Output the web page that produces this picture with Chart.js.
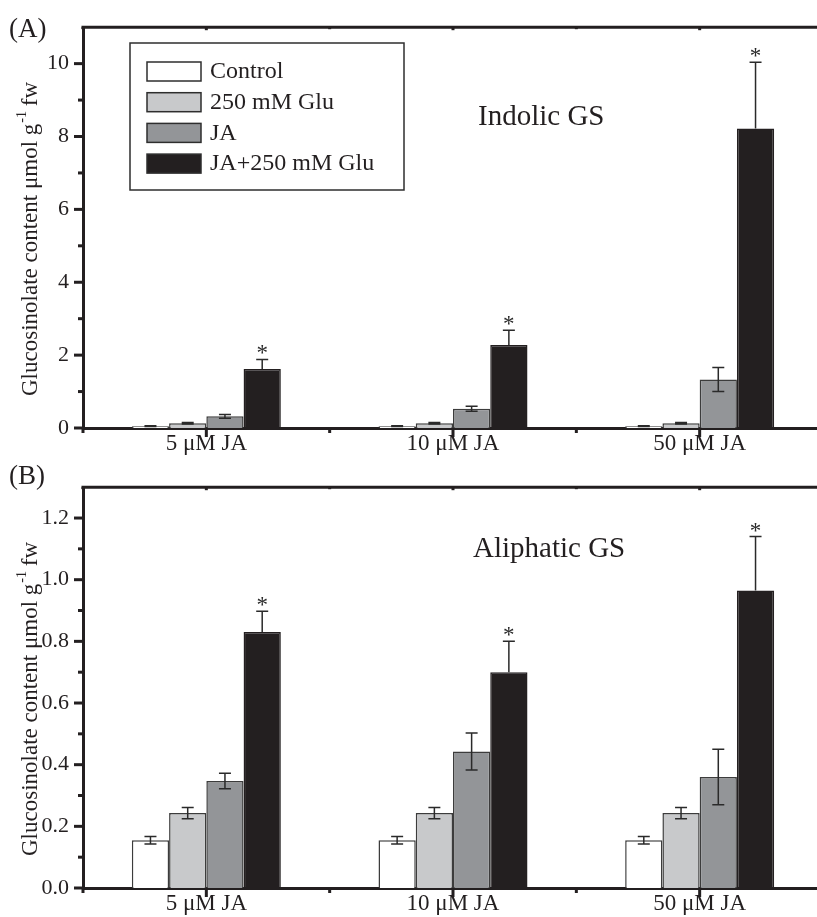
<!DOCTYPE html>
<html>
<head>
<meta charset="utf-8">
<script src="https://cdn.jsdelivr.net/npm/chart.js@4.4.0/dist/chart.umd.min.js"></script>
<style>
  html, body { margin: 0; padding: 0; background: #fff; overflow: hidden; }
  .panel { position: absolute; left: 0; }
</style>
</head>
<body>
<div class="panel" style="top:0"><canvas id="chartA" width="830" height="460"></canvas></div>
<div class="panel" style="top:460px"><canvas id="chartB" width="830" height="457"></canvas></div>
<script>
// categorias e séries
const groups = ['5 μM JA', '10 μM JA', '50 μM JA'];
const seriesNames = ['Control', '250 mM Glu', 'JA', 'JA+250 mM Glu'];
const seriesColors = ['#ffffff', '#c8c9cb', '#939598', '#231f20'];

// (A) Indolic GS
const indolicControl = [0.05, 0.05, 0.05];
const indolicGlu = [0.13, 0.13, 0.13];
const indolicJA = [0.32, 0.53, 1.33];
const indolicJAGlu = [1.62, 2.28, 8.22];
const indolicControlErr = [0.01, 0.01, 0.01];
const indolicGluErr = [0.02, 0.02, 0.02];
const indolicJAErr = [0.05, 0.07, 0.33];
const indolicJAGluErr = [0.26, 0.40, 1.82];

// (B) Aliphatic GS
const aliphaticControl = [0.155, 0.155, 0.155];
const aliphaticGlu = [0.243, 0.243, 0.243];
const aliphaticJA = [0.347, 0.443, 0.36];
const aliphaticJAGlu = [0.83, 0.70, 0.965];
const aliphaticControlErr = [0.012, 0.012, 0.012];
const aliphaticGluErr = [0.018, 0.018, 0.018];
const aliphaticJAErr = [0.025, 0.06, 0.09];
const aliphaticJAGluErr = [0.068, 0.10, 0.175];

// ticks do eixo y
const yTicksA = [0, 2, 4, 6, 8, 10];
const yMinorA = [1, 3, 5, 7, 9];
const yTicksB = [0, 0.2, 0.4, 0.6, 0.8, 1.0, 1.2];
const yMinorB = [0.1, 0.3, 0.5, 0.7, 0.9, 1.1];

const serif = "'Liberation Serif', 'Times New Roman', serif";
const ink = '#231f20';

const decorPlugin = {
  id: 'decor',
  afterDatasetsDraw(chart, args, opts) {
    const ctx = chart.ctx;
    const y = chart.scales.y;
    ctx.save();
    ctx.strokeStyle = '#2a2a2a';
    ctx.lineWidth = 1.5;
    opts.errors.forEach((errs, i) => {
      const vals = chart.data.datasets[i].data;
      const dark = i === opts.starSeries;
      chart.getDatasetMeta(i).data.forEach((bar, j) => {
        const top = y.getPixelForValue(vals[j] + errs[j]);
        const mid = y.getPixelForValue(vals[j]);
        const bot = y.getPixelForValue(vals[j] - errs[j]);
        ctx.beginPath();
        // barra preta: só a metade de cima aparece
        ctx.moveTo(bar.x, top); ctx.lineTo(bar.x, dark ? mid : bot);
        ctx.moveTo(bar.x - 6, top); ctx.lineTo(bar.x + 6, top);
        if (!dark) { ctx.moveTo(bar.x - 6, bot); ctx.lineTo(bar.x + 6, bot); }
        ctx.stroke();
        if (dark) {
          ctx.fillStyle = '#2a2a2a';
          ctx.font = '23px ' + serif;
          ctx.textAlign = 'center';
          ctx.textBaseline = 'alphabetic';
          ctx.fillText('*', bar.x, top + 1);
        }
      });
    });
    ctx.restore();
  },
  afterDraw(chart, args, opts) {
    const ctx = chart.ctx;
    const area = chart.chartArea;
    const x = chart.scales.x, y = chart.scales.y;
    ctx.save();
    ctx.strokeStyle = ink;
    ctx.fillStyle = ink;

    // moldura superior
    ctx.lineWidth = 3;
    ctx.beginPath();
    ctx.moveTo(area.left - 1.5, area.top);
    ctx.lineTo(area.right, area.top);
    ctx.stroke();

    // ticks y
    opts.major.forEach(v => {
      const py = y.getPixelForValue(v);
      ctx.beginPath(); ctx.moveTo(area.left - 9, py); ctx.lineTo(area.left, py); ctx.stroke();
    });
    opts.minor.forEach(v => {
      const py = y.getPixelForValue(v);
      ctx.beginPath(); ctx.moveTo(area.left - 5, py); ctx.lineTo(area.left, py); ctx.stroke();
    });

    // ticks x (centro e divisões)
    const step = (area.right - area.left) / groups.length;
    groups.forEach((g, i) => {
      const px = x.getPixelForValue(i);
      ctx.beginPath(); ctx.moveTo(px, area.bottom); ctx.lineTo(px, area.bottom + 9); ctx.stroke();
      ctx.beginPath(); ctx.moveTo(px, area.top); ctx.lineTo(px, area.top + 3); ctx.stroke();
      const bx = px - step / 2;
      ctx.beginPath(); ctx.moveTo(bx, area.bottom); ctx.lineTo(bx, area.bottom + 5); ctx.stroke();
      ctx.beginPath(); ctx.moveTo(bx, area.top); ctx.lineTo(bx, area.top + 2); ctx.stroke();
    });

    // título do eixo y com sobrescrito
    const fs = 23;
    ctx.translate(37, opts.titleY);
    ctx.rotate(-Math.PI / 2);
    ctx.textBaseline = 'alphabetic';
    ctx.textAlign = 'left';
    const main = 'Glucosinolate content μmol g';
    const sup = '-1';
    const tail = ' fw';
    ctx.font = fs + 'px ' + serif;
    const w1 = ctx.measureText(main).width;
    const w3 = ctx.measureText(tail).width;
    ctx.font = Math.round(fs * 0.6) + 'px ' + serif;
    const w2 = ctx.measureText(sup).width;
    let sx = -(w1 + w2 + w3) / 2;
    ctx.font = fs + 'px ' + serif;
    ctx.fillText(main, sx, 0);
    sx += w1;
    ctx.font = Math.round(fs * 0.6) + 'px ' + serif;
    ctx.fillText(sup, sx + 1, -fs * 0.5);
    sx += w2;
    ctx.font = fs + 'px ' + serif;
    ctx.fillText(tail, sx, 0);
    ctx.setTransform(1, 0, 0, 1, 0, 0);

    // rótulo do painel e anotação
    ctx.textAlign = 'left';
    ctx.textBaseline = 'alphabetic';
    ctx.font = '27px ' + serif;
    ctx.fillText(opts.panel, 9, opts.panelY);
    ctx.font = '29px ' + serif;
    ctx.fillText(opts.note, opts.noteX, opts.noteY);

    // legenda
    if (opts.legend) {
      ctx.lineWidth = 1.5;
      ctx.strokeStyle = '#2e2e2e';
      ctx.strokeRect(130, 43, 274, 147);
      ctx.font = '24px ' + serif;
      ctx.textBaseline = 'middle';
      seriesNames.forEach((name, i) => {
        const ry = 62 + i * 30.7;
        ctx.fillStyle = seriesColors[i];
        ctx.fillRect(147, ry, 54, 19);
        ctx.strokeRect(147, ry, 54, 19);
        ctx.fillStyle = ink;
        ctx.fillText(name, 210, ry + 10);
      });
    }
    ctx.restore();
  }
};

function makeDatasets(values) {
  return values.map((v, i) => ({
    label: seriesNames[i],
    data: v,
    backgroundColor: seriesColors[i],
    borderColor: i === 3 ? ink : '#3c3c3c',
    borderWidth: 1.5,
    barPercentage: 1,
    categoryPercentage: 0.604
  }));
}

function makeChart(id, values, errors, yMax, major, minor, fmt, extra) {
  return new Chart(document.getElementById(id), {
    type: 'bar',
    data: { labels: groups, datasets: makeDatasets(values) },
    options: {
      responsive: false,
      animation: false,
      devicePixelRatio: 1,
      layout: { padding: { top: 14, right: 7, left: 0, bottom: 0 } },
      plugins: {
        legend: { display: false },
        tooltip: { enabled: false },
        decor: Object.assign({ errors: errors, starSeries: 3, major: major, minor: minor }, extra)
      },
      scales: {
        x: {
          grid: { display: false, drawTicks: false },
          border: { display: true, width: 3, color: ink },
          ticks: { color: ink, padding: 2, font: { family: serif, size: 23 } },
          afterFit: s => { s.height = extra.xHeight; }
        },
        y: {
          min: 0,
          max: yMax,
          grid: { display: false, drawTicks: false },
          border: { display: true, width: 3, color: ink },
          afterBuildTicks: s => { s.ticks = major.map(v => ({ value: v })); },
          ticks: { color: ink, padding: 14, font: { family: serif, size: 22 }, callback: fmt },
          afterFit: s => { s.width = 83; }
        }
      }
    },
    plugins: [decorPlugin]
  });
}

makeChart('chartA',
  [indolicControl, indolicGlu, indolicJA, indolicJAGlu],
  [indolicControlErr, indolicGluErr, indolicJAErr, indolicJAGluErr],
  11, yTicksA, yMinorA, v => String(v),
  { panel: '(A)', panelY: 37, note: 'Indolic GS', noteX: 478, noteY: 125, legend: true, titleY: 239, xHeight: 32 });

makeChart('chartB',
  [aliphaticControl, aliphaticGlu, aliphaticJA, aliphaticJAGlu],
  [aliphaticControlErr, aliphaticGluErr, aliphaticJAErr, aliphaticJAGluErr],
  1.3, yTicksB, yMinorB, v => v.toFixed(1),
  { panel: '(B)', panelY: 24, note: 'Aliphatic GS', noteX: 473, noteY: 97, legend: false, titleY: 239, xHeight: 29 });
</script>
</body>
</html>
